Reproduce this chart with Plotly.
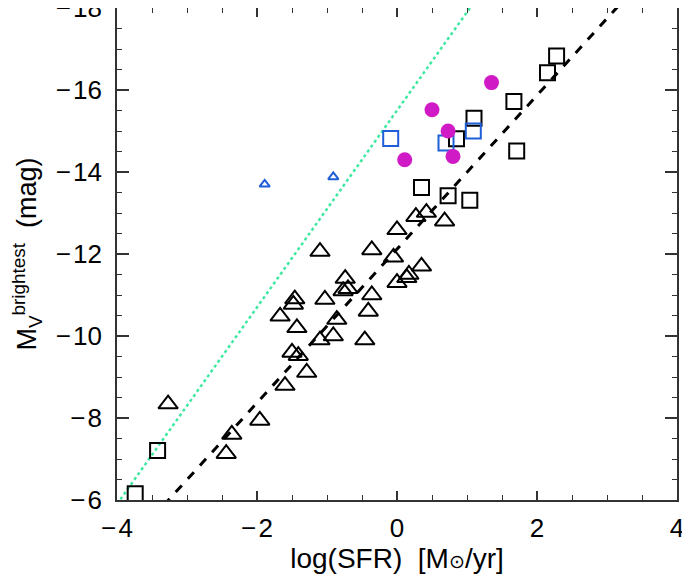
import numpy as np
import plotly.graph_objects as go

# black open triangles
tri_x = [-3.27, -2.44, -2.36, -1.96, -1.60, -1.50, -1.41, -1.29, -1.67, -1.48, -1.43,
         -1.10, -0.91, -1.03, -1.46, -0.86, -1.10, -0.46, -0.41, -0.36, -0.74, -0.70,
         -0.77, -0.36, -0.05, 0.00, 0.00, 0.14, 0.17, 0.35, 0.27, 0.42, 0.68]
tri_y = [-8.34, -7.13, -7.60, -7.94, -8.79, -9.60, -9.52, -9.11, -10.48, -10.77, -10.20,
         -9.90, -10.00, -10.89, -10.90, -10.40, -12.06, -9.90, -10.60, -11.00, -11.40, -11.15,
         -11.10, -12.10, -11.92, -12.59, -11.30, -11.42, -11.50, -11.70, -12.91, -13.01, -12.80]

# black open squares
sq_x = [-3.74, -3.42, 0.35, 0.73, 1.04, 0.85, 1.10, 1.71, 1.67, 2.15, 2.28]
sq_y = [-6.15, -7.21, -13.62, -13.42, -13.31, -14.81, -15.31, -14.51, -15.72, -16.42, -16.83]

# blue open squares
bsq_x = [-0.09, 0.70, 1.09]
bsq_y = [-14.82, -14.71, -15.00]

# small blue triangles
btri_x = [-1.89, -0.91]
btri_y = [-13.70, -13.88]

# magenta filled circles
circ_x = [0.11, 0.50, 0.73, 0.80, 1.35]
circ_y = [-14.30, -15.52, -15.00, -14.38, -16.18]

# fitted relations: M = a + b * log(SFR)
fit_a, fit_b = -12.12, -1.875
lim_a, lim_b = -15.50, -2.40

x_ticks = [-4, -2, 0, 2, 4]
y_ticks = [-18, -16, -14, -12, -10, -8, -6]


def fmt(v):
    return "\u2212\u200a" + str(-v) if v < 0 else str(v)


xl = np.linspace(-4.2, 4.2, 50)

fig = go.Figure()
fig.add_trace(go.Scatter(x=xl, y=lim_a + lim_b * xl, mode="lines",
                         line=dict(color="#3ee8a0", width=2.5, dash="dot")))
fig.add_trace(go.Scatter(x=xl, y=fit_a + fit_b * xl, mode="lines",
                         line=dict(color="black", width=3, dash="dash")))
fig.add_trace(go.Scatter(x=tri_x, y=tri_y, mode="markers",
                         marker=dict(symbol="triangle-up-open", size=17, color="black",
                                     line=dict(width=2))))
fig.add_trace(go.Scatter(x=sq_x, y=sq_y, mode="markers",
                         marker=dict(symbol="square-open", size=15, color="black",
                                     line=dict(width=2))))
fig.add_trace(go.Scatter(x=bsq_x, y=bsq_y, mode="markers",
                         marker=dict(symbol="square-open", size=15, color="#1f5ed8",
                                     line=dict(width=2))))
fig.add_trace(go.Scatter(x=btri_x, y=btri_y, mode="markers",
                         marker=dict(symbol="triangle-up-open", size=9, color="#1f5ed8",
                                     line=dict(width=2))))
fig.add_trace(go.Scatter(x=circ_x, y=circ_y, mode="markers",
                         marker=dict(symbol="circle", size=15, color="#d01ac6")))

tick_font = dict(family="Liberation Sans, Arial, sans-serif", size=26, color="black")
title_font = dict(family="Liberation Sans, Arial, sans-serif", size=28, color="black")
axis_common = dict(
    showgrid=False, zeroline=False, showline=True, linecolor="#333", linewidth=1.5,
    mirror="allticks", ticks="inside", tickcolor="#333", tickwidth=1.5,
    tickfont=tick_font, automargin=False, ticklabeloverflow="allow",
    minor=dict(dtick=0.5, ticks="inside", ticklen=5, tickcolor="#333", tickwidth=1.2),
)
fig.update_xaxes(
    range=[-4, 4], tickvals=x_ticks, ticktext=[fmt(v) for v in x_ticks],
    ticklen=9, ticklabelstandoff=4,
    title=dict(text='log(SFR)  [M<span style="font-size:19px">\u2299</span>/yr]',
               font=title_font, standoff=0),
    **axis_common,
)
fig.update_yaxes(
    range=[-6, -18], tickvals=y_ticks, ticktext=[fmt(v) for v in y_ticks],
    ticklen=12, ticklabelstandoff=8,
    title=dict(text="M<sub>V</sub><sup>brightest</sup>  (mag)",
               font=dict(title_font, size=27), standoff=26),
    **axis_common,
)
# the page body adds an 8px offset, so the figure is sized to fit inside the window
fig.update_layout(
    width=682, height=579, showlegend=False,
    margin=dict(l=109, r=13, t=0, b=87),
    plot_bgcolor="white", paper_bgcolor="white", font=tick_font,
)
fig.write_html("out.html")
